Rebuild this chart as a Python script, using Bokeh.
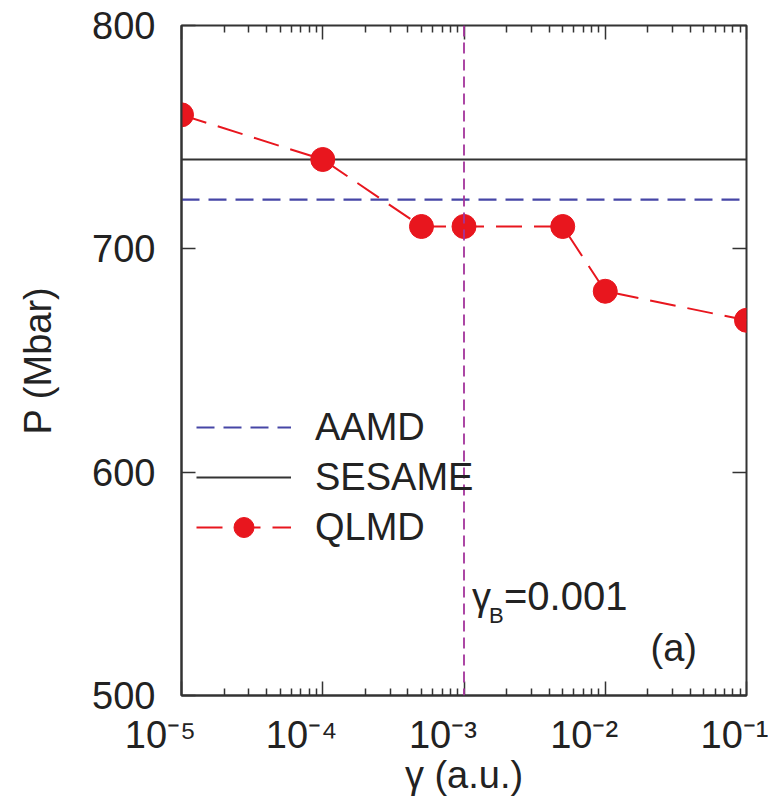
from bokeh.plotting import figure
from bokeh.models import (LogAxis, LinearAxis, FixedTicker, Span,
                          Label, Legend, LegendItem, Range1d,
                          CustomJSTickFormatter)
from bokeh.embed import file_html
from bokeh.resources import INLINE

# Friction coefficient gamma (a.u.) and QLMD pressure (Mbar)
gamma = [1e-5, 1e-4, 5e-4, 1e-3, 5e-3, 1e-2, 1e-1]
p_qlmd = [760, 740, 710, 710, 710, 681, 668]

# Reference pressures from other methods
p_sesame = 740
p_aamd = 722

# Bohm-like gamma marked by the vertical line
gamma_b = 0.001

# axis ticks and their labels
x_ticks = [1e-5, 1e-4, 1e-3, 1e-2, 1e-1]
x_tick_labels = ["10⁻⁵", "10⁻⁴", "10⁻³", "10⁻²", "10⁻¹"]
y_ticks = [500, 600, 700, 800]
X_MIN, X_MAX = 1e-5, 1e-1
Y_MIN, Y_MAX = 500, 800

FONT = "Liberation Sans"
TXT = "#222222"

p = figure(width=768, height=807, x_axis_type="log",
           x_range=Range1d(X_MIN, X_MAX), y_range=Range1d(Y_MIN, Y_MAX),
           output_backend="svg", toolbar_location=None,
           min_border_left=181, min_border_right=22,
           min_border_top=25, min_border_bottom=112)
p.background_fill_color = "white"
p.border_fill_color = "white"
p.outline_line_color = "#333333"
p.outline_line_width = 2
p.xgrid.visible = False
p.ygrid.visible = False

blank = CustomJSTickFormatter(code="return ''")
# decade labels sit a little left of their ticks (trailing no-break spaces);
# the last one is kept inside the canvas edge
decades = CustomJSTickFormatter(
    args=dict(decade_ticks=x_ticks, decade_labels=x_tick_labels), code="""
    const i = decade_ticks.findIndex(t => Math.abs(Math.log10(t) - Math.log10(tick)) < 1e-6);
    if (i < 0) return '';
    const pad = i < decade_ticks.length - 1 ? '\\u00a0\\u00a0\\u00a0\\u00a0' : '';
    return decade_labels[i] + pad;
""")
minor_x = [m * t for t in x_ticks[:-1] for m in range(2, 10)]

# bottom and left axes
xa = p.xaxis[0]
xa.ticker = FixedTicker(ticks=x_ticks, minor_ticks=minor_x)
xa.formatter = decades
ya = p.yaxis[0]
ya.ticker = FixedTicker(ticks=y_ticks)

for ax in (xa, ya):
    ax.axis_line_color = "#333333"
    ax.axis_line_width = 2
    ax.major_tick_line_color = "#333333"
    ax.major_tick_line_width = 1.5
    ax.minor_tick_line_color = "#333333"
    ax.minor_tick_line_width = 1.5
    ax.major_tick_in = 14
    ax.major_tick_out = 0
    ax.minor_tick_in = 7
    ax.minor_tick_out = 0
    ax.major_label_text_font = FONT
    ax.major_label_text_font_size = "38px"
    ax.major_label_text_color = TXT
    ax.axis_label_text_font = FONT
    ax.axis_label_text_font_size = "38px"
    ax.axis_label_text_font_style = "normal"
    ax.axis_label_text_color = TXT

ya.minor_tick_line_color = None
ya.major_label_standoff = 26
ya.axis_label = "P (Mbar)"
ya.axis_label_standoff = 30
xa.major_label_standoff = 18
xa.axis_label = "γ (a.u.)"
xa.axis_label_standoff = -5

# mirrored ticks on the top and right edges, without labels
top = LogAxis(ticker=FixedTicker(ticks=x_ticks, minor_ticks=minor_x),
              formatter=blank)
right = LinearAxis(ticker=FixedTicker(ticks=y_ticks), formatter=blank)
for ax in (top, right):
    ax.axis_line_color = None
    ax.major_tick_line_color = "#333333"
    ax.major_tick_line_width = 1.5
    ax.minor_tick_line_color = "#333333"
    ax.minor_tick_line_width = 1.5
    ax.major_tick_in = 14
    ax.major_tick_out = 0
    ax.minor_tick_in = 7
    ax.minor_tick_out = 0
    ax.major_label_text_font_size = "1px"
    ax.major_label_standoff = 0
right.minor_tick_line_color = None
p.add_layout(top, "above")
p.add_layout(right, "right")

# reference lines
r_aamd = p.line([X_MIN, X_MAX], [p_aamd, p_aamd], line_color="#4646a6",
                line_width=2.2, line_dash="18 9")
r_sesame = p.line([X_MIN, X_MAX], [p_sesame, p_sesame], line_color="#333333",
                  line_width=2.2)

p.add_layout(Span(location=gamma_b, dimension="height", line_color="#a3339b",
                  line_width=1.8, line_dash="11 6"))

# QLMD series
r_ql_line = p.line(gamma, p_qlmd, line_color="#e8161e", line_width=2,
                   line_dash="26 12")
r_ql_pts = p.scatter(gamma, p_qlmd, size=24, fill_color="#e8161e",
                     line_color="#e8161e")

legend = Legend(items=[
    LegendItem(label="AAMD", renderers=[r_aamd]),
    LegendItem(label="SESAME", renderers=[r_sesame]),
    LegendItem(label="QLMD", renderers=[r_ql_line, r_ql_pts]),
], location=(15, 143))
legend.background_fill_alpha = 0
legend.border_line_color = None
legend.padding = 0
legend.margin = 0
legend.spacing = 0
legend.glyph_width = 95
legend.glyph_height = 50
legend.label_height = 50
legend.label_standoff = 24
legend.label_text_font = FONT
legend.label_text_font_size = "38px"
legend.label_text_color = TXT
p.add_layout(legend, "center")

# annotations
p.add_layout(Label(x=gamma_b, y=Y_MIN, x_offset=8, y_offset=78, text="γ",
                   text_font=FONT, text_font_size="38px", text_color=TXT))
p.add_layout(Label(x=gamma_b, y=Y_MIN, x_offset=25, y_offset=68, text="B",
                   text_font=FONT, text_font_size="22px", text_color=TXT))
p.add_layout(Label(x=gamma_b, y=Y_MIN, x_offset=40, y_offset=78, text="=0.001",
                   text_font=FONT, text_font_size="40px", text_color=TXT))
p.add_layout(Label(x=X_MAX, y=Y_MIN, x_offset=-96, y_offset=27, text="(a)",
                   text_font=FONT, text_font_size="38px", text_color=TXT))

open("out.html", "w").write(file_html(p, INLINE))
